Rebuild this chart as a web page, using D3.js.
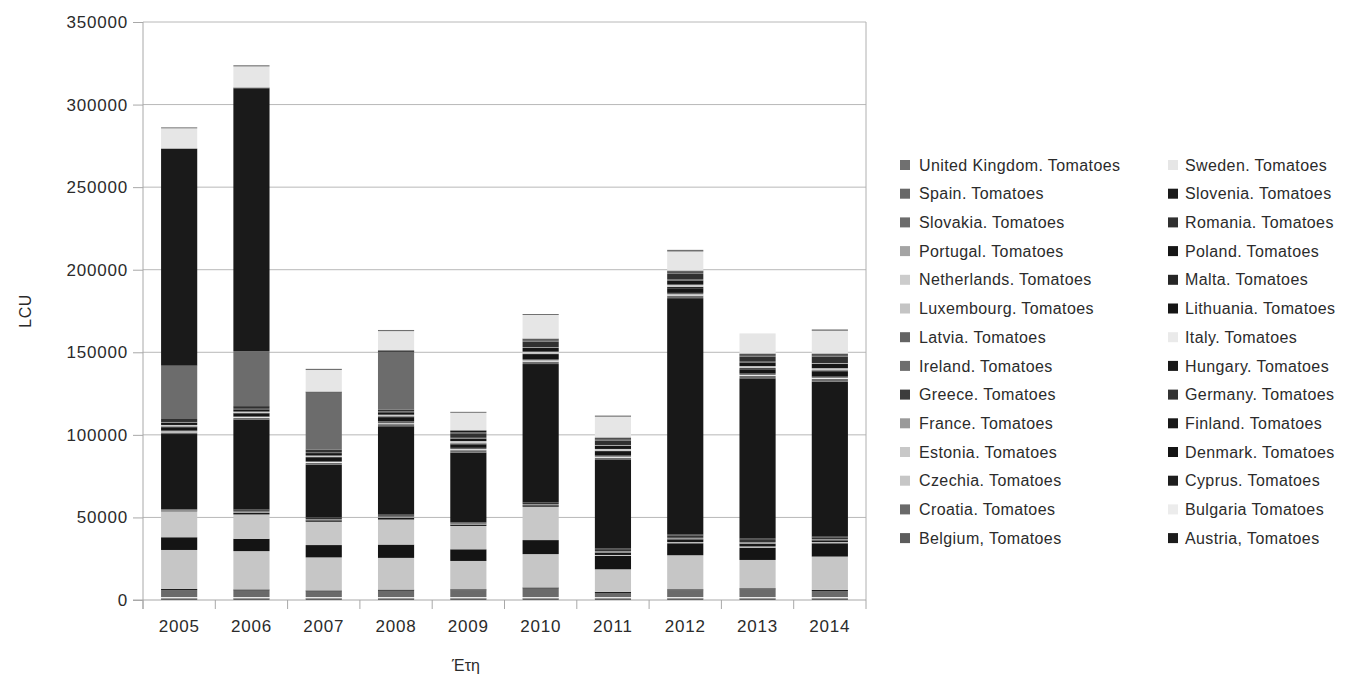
<!DOCTYPE html>
<html>
<head>
<meta charset="utf-8">
<script src="https://cdn.jsdelivr.net/npm/d3@7"></script>
<style>
  body { margin: 0; background: #fff; }
  text { font-family: "Liberation Sans", Arial, sans-serif; fill: #2b2b2b; }
</style>
</head>
<body>
<svg width="1363" height="675"></svg>
<script>
// years on the x axis
var years = ["2005", "2006", "2007", "2008", "2009", "2010", "2011", "2012", "2013", "2014"];

// one row of values per country (LCU)
var austria     = [700, 700, 700, 700, 700, 700, 700, 700, 700, 700];
var belgium     = [400, 400, 400, 400, 400, 400, 400, 400, 400, 400];
var bulgaria    = [700, 700, 700, 700, 700, 700, 700, 700, 700, 700];
var croatia     = [4200, 3900, 3300, 3800, 4000, 5100, 2400, 4000, 4600, 3600];
var cyprus      = [700, 700, 700, 700, 700, 700, 700, 700, 700, 700];
var czechia     = [23600, 23200, 20000, 19200, 17150, 20200, 13700, 20600, 17150, 20200];
var denmark     = [7700, 7470, 7470, 8070, 7060, 8480, 8070, 7270, 7470, 8070];
var estonia     = [15700, 14730, 14100, 15140, 14130, 20200, 600, 700, 700, 700];
var finland     = [500, 1000, 900, 1000, 800, 900, 1500, 1700, 1700, 1100];
var france      = [400, 800, 700, 800, 700, 700, 800, 900, 900, 700];
var germany     = [300, 800, 700, 800, 600, 700, 1200, 1400, 1400, 1000];
var greece      = [200, 400, 300, 400, 300, 300, 500, 700, 800, 500];
var hungary     = [45400, 54500, 32000, 53500, 42000, 83800, 53500, 143000, 97000, 93800];
var ireland     = [1000, 1000, 1000, 1300, 1500, 1500, 1400, 1600, 1500, 1700];
var italy       = [600, 500, 600, 500, 600, 700, 600, 700, 600, 700];
var latvia      = [500, 400, 500, 1200, 800, 800, 700, 900, 800, 700];
var lithuania   = [2000, 1700, 2000, 2500, 2000, 2500, 2200, 2800, 2500, 2900];
var luxembourg  = [0, 0, 0, 0, 0, 0, 0, 0, 0, 0];
var malta       = [500, 400, 500, 500, 700, 800, 700, 900, 800, 900];
var netherlands = [900, 800, 900, 1000, 1400, 1200, 1100, 1300, 1200, 1300];
var poland      = [1500, 1400, 1500, 1500, 1600, 2300, 2000, 2600, 2300, 2700];
var portugal    = [300, 300, 300, 400, 400, 400, 400, 450, 400, 450];
var romania     = [1800, 1600, 1800, 1200, 2700, 3400, 2700, 3500, 3000, 3800];
var slovakia    = [32300, 33300, 34300, 35000, 700, 700, 700, 700, 700, 700];
var slovenia    = [131200, 159200, 400, 500, 700, 700, 700, 800, 800, 800];
var spain       = [400, 500, 500, 500, 500, 500, 500, 500, 500, 500];
var sweden      = [12100, 12700, 13000, 11500, 10500, 14200, 12500, 11500, 12100, 13700];
var uk          = [600, 700, 700, 700, 600, 600, 700, 1000, 0, 800];

// stacking order, bottom to top
var series = [austria, belgium, bulgaria, croatia, cyprus, czechia, denmark, estonia,
  finland, france, germany, greece, hungary, ireland, italy, latvia, lithuania,
  luxembourg, malta, netherlands, poland, portugal, romania, slovakia, slovenia,
  spain, sweden, uk];

var labels = ["Austria, Tomatoes", "Belgium, Tomatoes", "Bulgaria Tomatoes", "Croatia. Tomatoes",
  "Cyprus. Tomatoes", "Czechia. Tomatoes", "Denmark. Tomatoes", "Estonia. Tomatoes",
  "Finland. Tomatoes", "France. Tomatoes", "Germany. Tomatoes", "Greece. Tomatoes",
  "Hungary. Tomatoes", "Ireland. Tomatoes", "Italy. Tomatoes", "Latvia. Tomatoes",
  "Lithuania. Tomatoes", "Luxembourg. Tomatoes", "Malta. Tomatoes", "Netherlands. Tomatoes",
  "Poland. Tomatoes", "Portugal. Tomatoes", "Romania. Tomatoes", "Slovakia. Tomatoes",
  "Slovenia. Tomatoes", "Spain. Tomatoes", "Sweden. Tomatoes", "United Kingdom. Tomatoes"];

var shades = ["#1c1c1c", "#5c5c5c", "#ececec", "#6a6a6a", "#1e1e1e", "#c6c6c6", "#141414", "#c8c8c8",
  "#181818", "#9a9a9a", "#333333", "#3c3c3c", "#181818", "#6e6e6e", "#eaeaea", "#646464",
  "#151515", "#c4c4c4", "#262626", "#cccccc", "#161616", "#a4a4a4", "#303030", "#6c6c6c",
  "#1a1a1a", "#686868", "#e6e6e6", "#707070"];

var yTicks = [0, 50000, 100000, 150000, 200000, 250000, 300000, 350000];

var svg = d3.select("svg"),
  margin = {top: 22, right: 497, bottom: 75, left: 143},
  width = +svg.attr("width") - margin.left - margin.right,
  height = +svg.attr("height") - margin.top - margin.bottom,
  g = svg.append("g").attr("transform", "translate(" + margin.left + "," + margin.top + ")");

var x = d3.scaleBand()
  .domain(years)
  .range([0, width])
  .paddingInner(0.5)
  .paddingOuter(0.25);

var y = d3.scaleLinear()
  .domain([0, 350000])
  .range([height, 0]);

var z = d3.scaleOrdinal()
  .domain(labels)
  .range(shades);

// table for d3.stack
var data = years.map(function(yr, i) {
  var row = {year: yr};
  labels.forEach(function(k, j) { row[k] = series[j][i]; });
  return row;
});

var stack = d3.stack().keys(labels);

// grid
g.append("g")
  .selectAll("line")
  .data(yTicks.slice(1))
  .enter().append("line")
    .attr("x1", 0)
    .attr("x2", width)
    .attr("y1", function(d) { return y(d); })
    .attr("y2", function(d) { return y(d); })
    .attr("stroke", "#b8b8b8")
    .attr("stroke-width", 1);

g.append("line")
  .attr("x1", width).attr("x2", width)
  .attr("y1", 0).attr("y2", height)
  .attr("stroke", "#b0b0b0");

// bars
g.append("g")
  .selectAll("g")
  .data(stack(data))
  .enter().append("g")
    .attr("fill", function(d) { return z(d.key); })
  .selectAll("rect")
  .data(function(d) { return d; })
  .enter().append("rect")
    .attr("x", function(d) { return x(d.data.year); })
    .attr("y", function(d) { return y(d[1]); })
    .attr("height", function(d) { return y(d[0]) - y(d[1]); })
    .attr("width", x.bandwidth());

// y axis
var yAxis = g.append("g")
  .call(d3.axisLeft(y).tickValues(yTicks).tickSize(10).tickSizeOuter(0).tickPadding(5).tickFormat(d3.format("d")));
yAxis.select(".domain").remove();
yAxis.selectAll("line").attr("stroke", "#a8a8a8");
yAxis.selectAll("text")
  .attr("font-size", 17)
  .attr("letter-spacing", "0.8px")
  .attr("fill", "#2b2b2b");

g.append("line")
  .attr("x1", 0).attr("x2", 0)
  .attr("y1", 0).attr("y2", height + 9)
  .attr("stroke", "#a8a8a8");

// x axis: labels under bars, ticks between categories
var xAxis = g.append("g")
  .attr("transform", "translate(0," + height + ")")
  .call(d3.axisBottom(x).tickSize(0).tickPadding(20));
xAxis.select(".domain").remove();
xAxis.selectAll("text")
  .attr("font-size", 17)
  .attr("letter-spacing", "0.8px")
  .attr("fill", "#2b2b2b");

g.append("line")
  .attr("x1", -10).attr("x2", width)
  .attr("y1", height).attr("y2", height)
  .attr("stroke", "#a8a8a8");

g.append("g")
  .selectAll("line")
  .data(d3.range(years.length + 1))
  .enter().append("line")
    .attr("x1", function(i) { return i * x.step(); })
    .attr("x2", function(i) { return i * x.step(); })
    .attr("y1", height)
    .attr("y2", height + 9)
    .attr("stroke", "#a8a8a8");

// axis titles
svg.append("text")
  .attr("transform", "translate(31,311) rotate(-90)")
  .attr("text-anchor", "middle")
  .attr("font-size", 16)
  .attr("letter-spacing", "0.5px")
  .text("LCU");

svg.append("text")
  .attr("x", 466)
  .attr("y", 671)
  .attr("text-anchor", "middle")
  .attr("font-size", 16)
  .text("Έτη");

// legend: reversed order, two per row
var legend = svg.append("g")
  .attr("font-size", 16)
  .selectAll("g")
  .data(labels.slice().reverse())
  .enter().append("g")
    .attr("transform", function(d, i) {
      var col = i % 2, row = Math.floor(i / 2);
      return "translate(" + (col ? 1168 : 900) + "," + (165 + row * 28.7) + ")";
    });

legend.append("rect")
  .attr("x", 0)
  .attr("y", -5)
  .attr("width", 10)
  .attr("height", 10)
  .attr("fill", z);

legend.append("text")
  .attr("x", function(d, i) { return i % 2 ? 17 : 19; })
  .attr("y", 0)
  .attr("dy", "0.35em")
  .attr("letter-spacing", "0.4px")
  .text(function(d) { return d; });
</script>
</body>
</html>
